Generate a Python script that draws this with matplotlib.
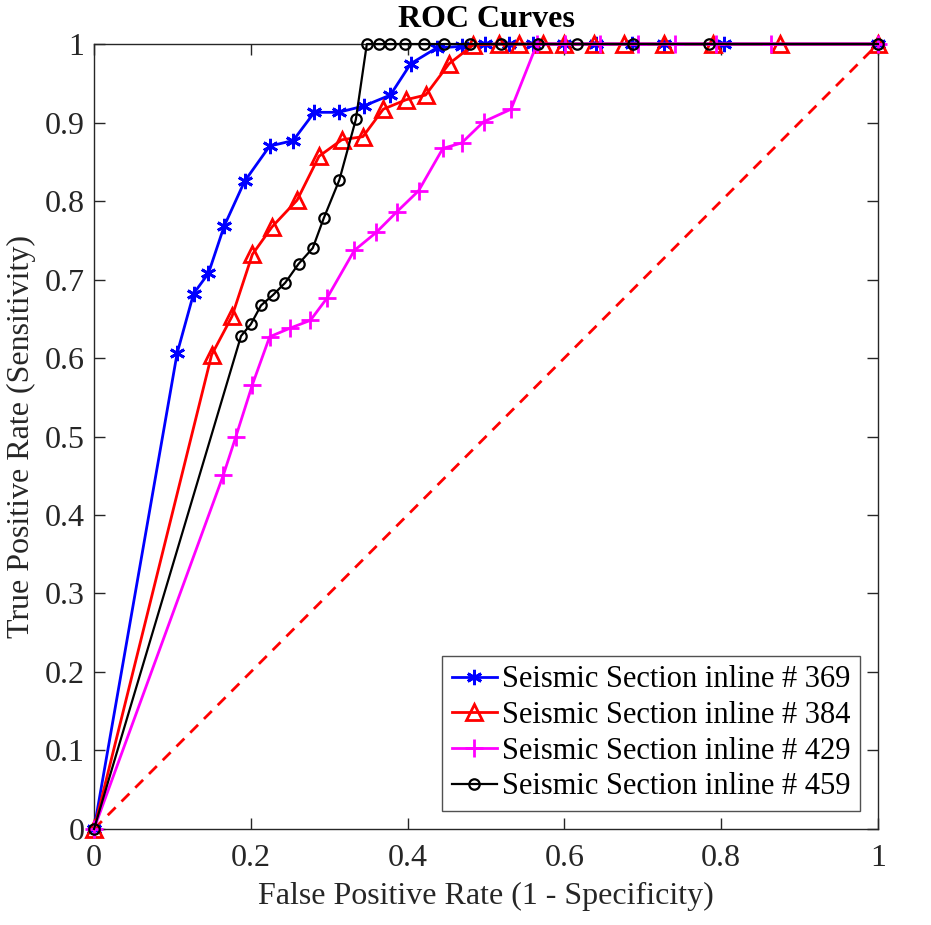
import matplotlib.pyplot as plt
import numpy as np

plt.rcParams['font.family'] = ['Liberation Serif', 'DejaVu Serif']

# ROC points
fpr_369 = [0, 0.106, 0.127, 0.146, 0.166, 0.192, 0.224, 0.254, 0.281, 0.312, 0.344,
           0.378, 0.404, 0.437, 0.469, 0.499, 0.530, 0.560, 0.600, 0.640, 0.686,
           0.727, 0.803, 1.0]
tpr_369 = [0, 0.606, 0.682, 0.708, 0.768, 0.825, 0.870, 0.877, 0.913, 0.913, 0.921,
           0.935, 0.975, 0.995, 0.997, 1.0, 1.0, 1.0, 1.0, 1.0, 1.0,
           1.0, 1.0, 1.0]

fpr_384 = [0, 0.150, 0.176, 0.202, 0.227, 0.259, 0.287, 0.316, 0.343, 0.369, 0.398,
           0.423, 0.453, 0.484, 0.517, 0.542, 0.573, 0.600, 0.638, 0.676, 0.727,
           0.790, 0.875, 1.0]
tpr_384 = [0, 0.604, 0.653, 0.732, 0.767, 0.801, 0.857, 0.878, 0.882, 0.917, 0.929,
           0.935, 0.975, 0.999, 1.0, 1.0, 1.0, 1.0, 1.0, 1.0, 1.0,
           1.0, 1.0, 1.0]

fpr_429 = [0, 0.165, 0.181, 0.202, 0.224, 0.250, 0.276, 0.297, 0.332, 0.360, 0.386,
           0.414, 0.445, 0.469, 0.497, 0.532, 0.565, 0.601, 0.645, 0.694, 0.741,
           0.794, 0.864, 1.0]
tpr_429 = [0, 0.451, 0.500, 0.566, 0.627, 0.638, 0.648, 0.676, 0.737, 0.760, 0.786,
           0.813, 0.867, 0.874, 0.901, 0.917, 1.0, 1.0, 1.0, 1.0, 1.0,
           1.0, 1.0, 1.0]

fpr_459 = [0, 0.1875, 0.200, 0.213, 0.228, 0.244, 0.261, 0.279, 0.293, 0.313, 0.334,
           0.348, 0.363, 0.378, 0.397, 0.421, 0.447, 0.480, 0.519, 0.566, 0.616,
           0.687, 0.784, 1.0]
tpr_459 = [0, 0.628, 0.643, 0.667, 0.680, 0.696, 0.720, 0.740, 0.778, 0.827, 0.904,
           1.0, 1.0, 1.0, 1.0, 1.0, 1.0, 1.0, 1.0, 1.0, 1.0,
           1.0, 1.0, 1.0]

labels = ['Seismic Section inline # 369', 'Seismic Section inline # 384',
          'Seismic Section inline # 429', 'Seismic Section inline # 459']

fig = plt.figure(figsize=(9.31, 9.25), dpi=100)
ax = fig.add_axes([0.101, 0.1038, 0.842, 0.8486])

ax.plot(fpr_369, tpr_369, color='#0000ff', lw=2, marker=(6, 2, 0), ms=11, mew=2,
        label=labels[0], clip_on=False, zorder=3)
ax.plot(fpr_384, tpr_384, color='#ff0000', lw=2, marker='^', ms=11, mew=2, mfc='none',
        label=labels[1], clip_on=False, zorder=3)
ax.plot(fpr_429, tpr_429, color='#ff00ff', lw=2, marker='+', ms=13, mew=2,
        label=labels[2], clip_on=False, zorder=3)
ax.plot(fpr_459, tpr_459, color='black', lw=1.6, marker='o', ms=7.5, mew=1.6, mfc='none',
        label=labels[3], clip_on=False, zorder=3)
ax.plot([0, 1], [0, 1], color='#ff0000', lw=2, ls=(0, (4, 3)))

ax.set_xlim(0, 1)
ax.set_ylim(0, 1)
ax.set_xticks(np.arange(0, 1.01, 0.2))
ax.set_yticks(np.arange(0, 1.01, 0.1))
ax.set_xticklabels(['0', '0.2', '0.4', '0.6', '0.8', '1'])
ax.set_yticklabels(['0', '0.1', '0.2', '0.3', '0.4', '0.5', '0.6', '0.7', '0.8', '0.9', '1'])
ax.tick_params(direction='in', length=8, width=1, top=True, right=True, labelsize=23,
               colors='#262626')
ax.tick_params(axis='x', pad=11)
ax.tick_params(axis='y', pad=7)
for s in ax.spines.values():
    s.set_linewidth(1)
    s.set_color('#262626')

ax.set_xlabel('False Positive Rate (1 - Specificity)', fontsize=23, color='#262626', labelpad=6)
ax.set_ylabel('True Positive Rate (Sensitivity)', fontsize=23, color='#262626', labelpad=6)
ax.set_title('ROC Curves', fontsize=23, fontweight='bold', pad=12)

leg = ax.legend(loc='lower right', fontsize=22, frameon=True, fancybox=False,
                edgecolor='#262626', borderpad=0.3, labelspacing=0.22, handlelength=1.5,
                handletextpad=0.15, borderaxespad=0.6)
leg.get_frame().set_linewidth(1)

fig.savefig('out.png', dpi=100)
